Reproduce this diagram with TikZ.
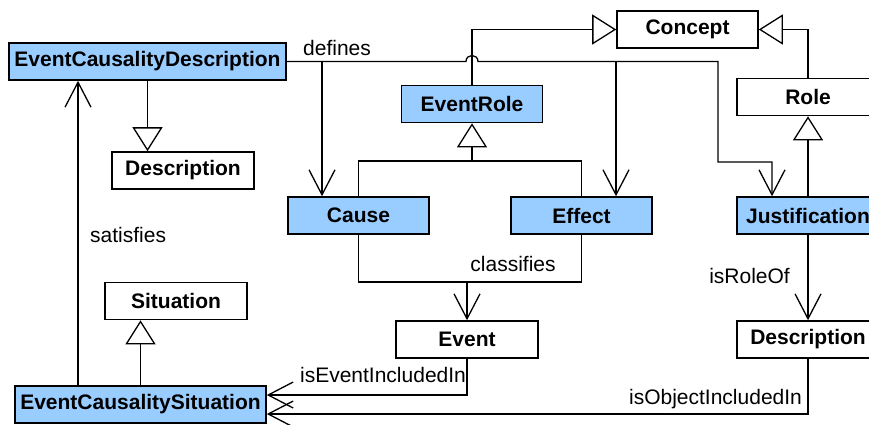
\documentclass[tikz,border=0pt]{standalone}
\usepackage{fontspec}
\setmainfont{Liberation Sans}
\usepackage{xcolor}
\usepackage{tikz}
\usetikzlibrary{positioning,arrows.meta}
\definecolor{rolefill}{HTML}{99CCFF}

\begin{document}
\begin{tikzpicture}[x=1pt, y=-1pt,
    font=\fontsize{21pt}{25pt}\selectfont,
    classbox/.style={draw, line width=1.6pt, minimum height=37pt, minimum width=142pt,
        inner sep=0pt, font=\fontsize{21pt}{25pt}\selectfont\bfseries},
    bluebox/.style={classbox, fill=rolefill},
    link/.style={line width=1.3pt},
    assoc/.style={link, -{Straight Barb[length=25pt, width=26pt]}},
    gen/.style={link, -{Triangle[length=24pt, width=30pt, fill=white]}},
    lbl/.style={inner sep=0pt}]

    \path[use as bounding box] (0,0) rectangle (869,424);
    \clip (0,0) rectangle (869,424);

    % Classes (blue ones belong to the causality pattern)
    \node[bluebox, minimum width=277pt] (ecd) at (147.5,61.5) {EventCausalityDescription};
    \node[classbox] (descL) at (183,170.5) {Description};
    \node[classbox, minimum width=141pt] (concept) at (687.5,29.5) {Concept};
    \node[bluebox, minimum width=141pt] (eventrole) at (472,104) {EventRole};
    \node[classbox] (role) at (808,97) {Role};
    \node[bluebox, minimum width=141pt] (cause) at (358.5,215.5) {Cause};
    \node[bluebox, minimum width=141pt] (effect) at (581.5,215.5) {Effect};
    \node[bluebox] (justification) at (808,215.5) {Justification};
    \node[classbox] (situation) at (176,301) {Situation};
    \node[classbox] (event) at (467,339.5) {Event};
    \node[classbox] (descR) at (808,339.5) {Description};
    \node[bluebox, minimum width=251pt] (ecs) at (140.5,404.5) {EventCausalitySituation};

    % Generalisations
    \draw[gen] (ecd.south) -- (ecd.south |- descL.north);
    \draw[gen] (ecs.north) -- (ecs.north |- situation.south);
    \draw[gen] (eventrole.north) |- (concept.west);
    \draw[gen] (role.north) |- (concept.east);
    \draw[gen] (justification.north) -- (role.south);
    \coordinate (cejoin) at (472,161);
    \draw[link] (cause.north) |- (cejoin) -| (effect.north);
    \draw[gen] (cejoin) -- (eventrole.south);

    % defines (hops over the EventRole line)
    \coordinate (hopL) at (466,61.5);
    \coordinate (hopR) at (478,61.5);
    \coordinate (defC) at (322,61.5);
    \coordinate (defE) at (616,61.5);
    \coordinate (defJ) at (718,61.5);
    \coordinate (jtop) at (772,162);
    \draw[assoc] (ecd.east) -- (hopL) .. controls ++(0,-8) and ++(0,-8) .. (hopR)
        -- (defJ) |- (jtop) -- (jtop |- justification.north);
    \draw[assoc] (defC) -- (defC |- cause.north);
    \draw[assoc] (defE) -- (defE |- effect.north);
    \node[lbl, anchor=west] (defines) at (303,47.5) {defines};

    % satisfies
    \draw[assoc] ([xshift=-62.5pt]ecs.north) -- ([xshift=-62.5pt]ecs.north |- ecd.south);
    \node[lbl, anchor=west] (satisfies) at (90,234.5) {satisfies};

    % classifies
    \coordinate (cljoin) at (467,282);
    \draw[link] (cause.south) |- (cljoin) -| (effect.south);
    \draw[assoc] (cljoin) -- (event.north);
    \node[lbl] (classifies) at (513,263.5) {classifies};

    % isRoleOf
    \draw[assoc] (justification.south) -- (descR.north);
    \node[lbl, anchor=east] (isroleof) at (790,275.5) {isRoleOf};

    % inclusion in the situation
    \draw[assoc] (event.south) |- ([yshift=9.5pt]ecs.east);
    \draw[assoc] (descR.south) |- ([yshift=-9.5pt]ecs.east);
    \node[lbl] (evincl) at (383,374.5) {isEventIncludedIn};
    \node[lbl] (objincl) at (715.5,399) {isObjectIncludedIn};

\end{tikzpicture}
\end{document}
